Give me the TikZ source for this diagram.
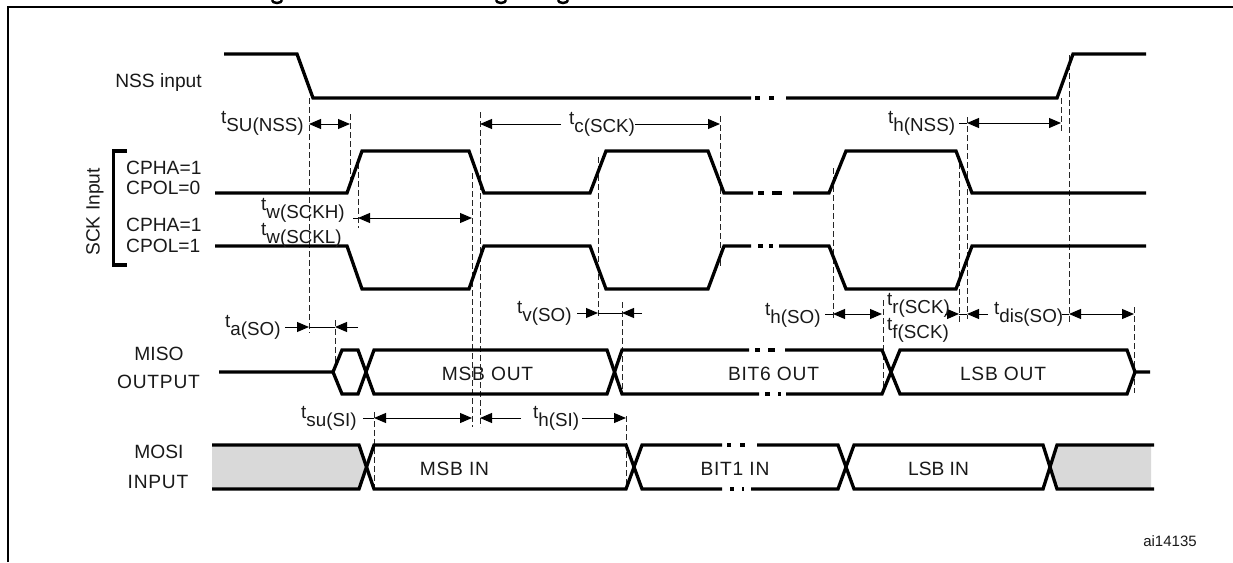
\documentclass[tikz,border=0pt]{standalone}
\usepackage{fontspec}
\setmainfont{Liberation Sans}
\usetikzlibrary{arrows.meta}
\newcommand\tsub[1]{\raisebox{4pt}{t}\raisebox{-4pt}{#1}}
\newfontfamily\spacedfont[LetterSpace=4]{Liberation Sans}
\tikzset{
  wave/.style={line width=3.3pt,line join=miter,black},
  frameline/.style={line width=2pt,black},
  guide/.style={line width=1pt,dash pattern=on 6pt off 3pt,black!85},
  dim/.style={line width=1pt,black,{Triangle[length=12pt,width=10pt]}-{Triangle[length=12pt,width=10pt]}},
  dimto/.style={line width=1pt,black,-{Triangle[length=12pt,width=10pt]}},
  txt/.style={inner sep=0pt,font=\fontsize{19.2}{21}\selectfont,text=black!90},
  tlabel/.style={inner sep=0pt,anchor=west,font=\fontsize{18.8}{21}\selectfont,text=black!90},
  wordtxt/.style={inner sep=0pt,font=\spacedfont\fontsize{19.2}{21}\selectfont,text=black!90},
  fillgray/.style={fill=black!15,draw=none}
}
\begin{document}
\begin{tikzpicture}[x=1pt,y=-1pt]
\useasboundingbox (0,0) rectangle (1233,562);
% frame
\draw[frameline] (7.5,562) -- (7.5,7) -- (1233,7);
\foreach \gx in {277,501,563} \draw[line width=2.5pt] (\gx-5,0) arc[start angle=180,end angle=360,x radius=5pt,y radius=3pt];
% gray regions
\fill[fillgray] (212,445) -- (359,445) -- (367,467) -- (359,489) -- (212,489) -- cycle;
\fill[fillgray] (1050,467) -- (1057,445) -- (1151,445) -- (1151,489) -- (1057,489) -- cycle;
% guides
\draw[guide] (309,98) -- (309,333);
\draw[guide] (350,114) -- (350,184);
\draw[guide] (358,163) -- (358,228);
\draw[guide] (472,173) -- (472,427);
\draw[guide] (480,112) -- (480,427);
\draw[guide] (598,157) -- (598,319);
\draw[guide] (622,302) -- (622,393);
\draw[guide] (720,116) -- (720,267);
\draw[guide] (833,168) -- (833,319);
\draw[guide] (959,163) -- (959,323);
\draw[guide] (967,117) -- (967,319);
\draw[guide] (1061,98) -- (1061,133);
\draw[guide] (1069,55) -- (1069,323);
\draw[guide] (883,300) -- (883,393);
\draw[guide] (1134,307) -- (1134,393);
\draw[guide] (335,320) -- (335,363);
\draw[guide] (374,412) -- (374,487);
\draw[guide] (626,416) -- (626,487);
% NSS
\draw[wave] (224,54) -- (297,54) -- (313,98) -- (751,98);
\draw[wave] (755,98) -- (760,98) (769,98) -- (774,98);
\draw[wave] (786,98) -- (1057,98) -- (1073,54) -- (1146,54);
% SCK CPOL=0
\draw[wave] (215,193) -- (347,193) -- (362,151) -- (469,151) -- (484,193) -- (590,193) -- (606,151) -- (708,151) -- (724,193) -- (753,193);
\draw[wave] (758,193) -- (764,193) (772,193) -- (782,193);
\draw[wave] (793,193) -- (829,193) -- (846,151) -- (956,151) -- (972,193) -- (1146,193);
% SCK CPOL=1
\draw[wave] (215,246) -- (347,246) -- (362,289) -- (469,289) -- (484,246) -- (590,246) -- (606,289) -- (708,289) -- (724,246) -- (751,246);
\draw[wave] (758,246) -- (763,246) (769,246) -- (773,246);
\draw[wave] (779,246) -- (829,246) -- (846,289) -- (956,289) -- (972,246) -- (1146,246);
% bracket
\draw[line width=3.5pt] (127,151) -- (113.5,151) -- (113.5,265) -- (127,265);
% MISO
\draw[wave] (219,372) -- (333,372) -- (342,350) -- (358,350) -- (374,394) -- (607,394) -- (622,350) -- (749,350);
\draw[wave] (333,372) -- (342,394) -- (358,394) -- (374,350) -- (607,350) -- (622,394) -- (759,394);
\draw[wave] (755,350) -- (760,350) (768,350) -- (775,350);
\draw[wave] (785,350) -- (882,350) -- (900,394) -- (1127,394) -- (1135,372) -- (1150,372);
\draw[wave] (765,394) -- (770,394) (778,394) -- (781,394);
\draw[wave] (786,394) -- (882,394) -- (900,350) -- (1127,350) -- (1135,372);
% MOSI
\draw[wave] (212,445) -- (359,445) -- (374,489) -- (626,489) -- (642,445) -- (722,445);
\draw[wave] (212,489) -- (359,489) -- (374,445) -- (626,445) -- (642,489) -- (722,489);
\draw[wave] (727,445) -- (731,445) (740,445) -- (745,445);
\draw[wave] (730,489) -- (734,489) (742,489) -- (744,489);
\draw[wave] (757,445) -- (838,445) -- (854,489) -- (1043,489) -- (1057,445) -- (1154,445);
\draw[wave] (751,489) -- (838,489) -- (854,445) -- (1043,445) -- (1057,489) -- (1154,489);
% time arrows
\draw[dim] (309,124) -- (350,124);
\draw[dimto] (561,124) -- (480,124);
\draw[dimto] (635,124) -- (720,124);
\draw[dim] (358,218) -- (472,218);
\draw[line width=1pt] (353,218) -- (358,218);
\draw[dim] (967,123) -- (1061,123);
\draw[line width=1pt] (959,123) -- (967,123);
\draw[dimto] (285,327) -- (309,327);
\draw[line width=1pt] (309,327) -- (335,327);
\draw[dimto] (358,327) -- (335,327);
\draw[dimto] (577,313) -- (598,313);
\draw[line width=1pt] (598,313) -- (622,313);
\draw[dimto] (642,313) -- (622,313);
\draw[dim] (833,314) -- (882,314);
\draw[line width=1pt] (825,314) -- (833,314);
\draw[dimto] (945,314) -- (959,314);
\draw[line width=1pt] (959,314) -- (967,314);
\draw[dimto] (988,314) -- (967,314);
\draw[dim] (1069,314) -- (1134,314);
\draw[line width=1pt] (1062,314) -- (1069,314);
\draw[dim] (374,418) -- (472,418);
\draw[line width=1pt] (363,418) -- (374,418);
\draw[dimto] (521,418) -- (480,418);
\draw[dimto] (582,418) -- (626,418);
% labels
\node[txt] (nss) at (158.5,83) {NSS input};
\node[txt,rotate=90] (sck) at (95,212) {SCK Input};
\node[txt,anchor=west] (cpha0) at (126,168) {CPHA=1};
\node[txt,anchor=west] (cpol0) at (126,188) {CPOL=0};
\node[txt,anchor=west] (cpha1) at (126,225) {CPHA=1};
\node[txt,anchor=west] (cpol1) at (126,246) {CPOL=1};
\node[txt] (miso) at (159,354) {MISO};
\node[wordtxt] (out) at (158.5,382) {OUTPUT};
\node[txt] (mosi) at (159,452) {MOSI};
\node[wordtxt] (inp) at (158,482) {INPUT};
\node[tlabel] (tsu) at (221,123) {\tsub{SU(NSS)}};
\node[tlabel] (tc) at (569,124) {\tsub{c(SCK)}};
\node[tlabel] (th) at (888,123) {\tsub{h(NSS)}};
\node[tlabel] (twh) at (261,210) {\tsub{w(SCKH)}};
\node[tlabel] (twl) at (261,235) {\tsub{w(SCKL)}};
\node[tlabel] (ta) at (225,327) {\tsub{a(SO)}};
\node[tlabel] (tv) at (517,313) {\tsub{v(SO)}};
\node[tlabel] (ths) at (765,315) {\tsub{h(SO)}};
\node[tlabel] (tr) at (887,305) {\tsub{r(SCK)}};
\node[tlabel] (tf) at (887,330) {\tsub{f(SCK)}};
\node[tlabel] (tdis) at (994,314) {\tsub{dis(SO)}};
\node[tlabel] (tsi) at (301,418) {\tsub{su(SI)}};
\node[tlabel] (thi) at (533,418) {\tsub{h(SI)}};
\node[wordtxt] (msbo) at (487.5,374) {MSB OUT};
\node[wordtxt] (bit6) at (773.5,374) {BIT6 OUT};
\node[wordtxt] (lsbo) at (1003,374) {LSB OUT};
\node[wordtxt] (msbi) at (454.5,469) {MSB IN};
\node[wordtxt] (bit1) at (735,469) {BIT1 IN};
\node[txt] (lsbi) at (938.5,469) {LSB IN};
\node[inner sep=0pt,font=\fontsize{15}{17}\selectfont,text=black!90] (ref) at (1170,541) {ai14135};
\end{tikzpicture}
\end{document}
